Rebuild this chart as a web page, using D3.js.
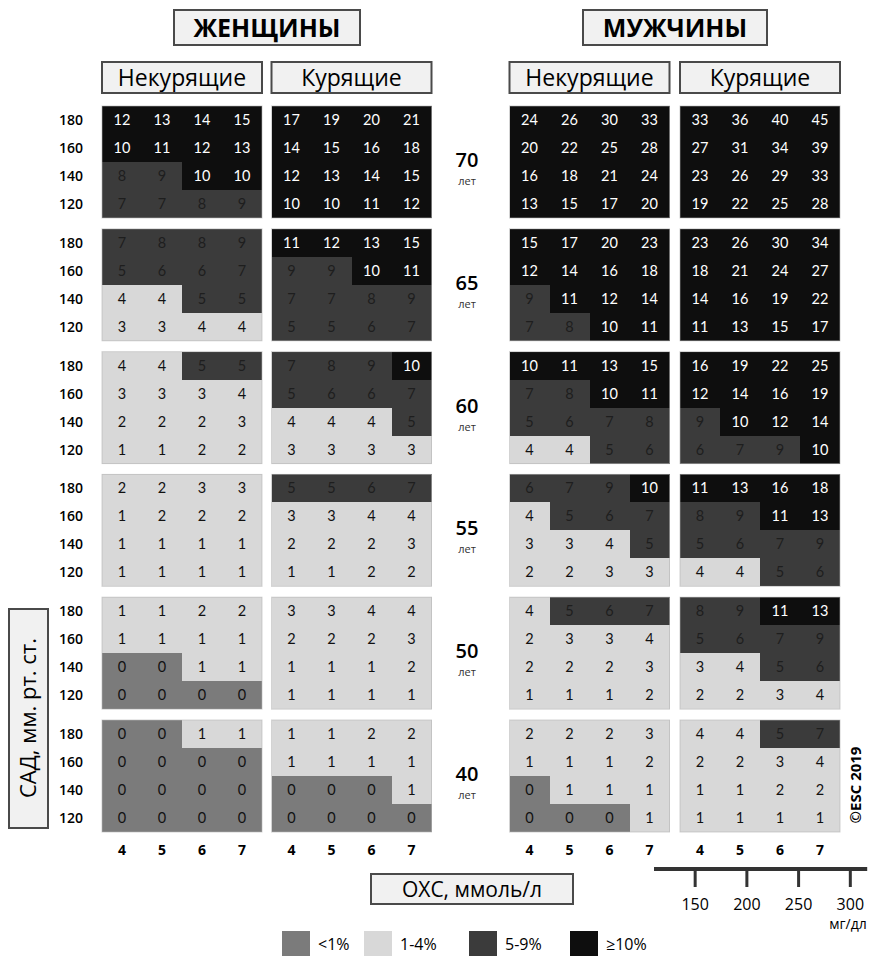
<!DOCTYPE html>
<html>

<head>
    <meta charset="UTF-8">
    <style>
        body { margin: 0; background: #fff; }
        text { font-family: "Open Sans", "DejaVu Sans", sans-serif; }
    </style>
</head>

<body>
    <div id="chart"></div>

    <script src="https://d3js.org/d3.v7.min.js"></script>
    <script>
        // axes values
        const cholesterol = [4, 5, 6, 7];        // ОХС, ммоль/л
        const sbp = [180, 160, 140, 120];        // САД, мм рт. ст.
        const ages = [70, 65, 60, 55, 50, 40];
        const mgdlTicks = [150, 200, 250, 300];

        // risk classes
        const riskThresholds = [1, 5, 10];
        const riskLabels = ["<1%", "1-4%", "5-9%", "≥10%"];
        const riskColors = ["#7b7b7b", "#d8d8d8", "#3b3b3b", "#0e0e0e"];

        const sexLabels = ["ЖЕНЩИНЫ", "МУЖЧИНЫ"];
        const smokeLabels = ["Некурящие", "Курящие"];

        // 10-year risk, one block per age, rows = SBP 180..120, cols = chol 4..7
        const womenNonSmoker = [
            [[12, 13, 14, 15], [10, 11, 12, 13], [8, 9, 10, 10], [7, 7, 8, 9]],
            [[7, 8, 8, 9], [5, 6, 6, 7], [4, 4, 5, 5], [3, 3, 4, 4]],
            [[4, 4, 5, 5], [3, 3, 3, 4], [2, 2, 2, 3], [1, 1, 2, 2]],
            [[2, 2, 3, 3], [1, 2, 2, 2], [1, 1, 1, 1], [1, 1, 1, 1]],
            [[1, 1, 2, 2], [1, 1, 1, 1], [0, 0, 1, 1], [0, 0, 0, 0]],
            [[0, 0, 1, 1], [0, 0, 0, 0], [0, 0, 0, 0], [0, 0, 0, 0]]
        ];
        const womenSmoker = [
            [[17, 19, 20, 21], [14, 15, 16, 18], [12, 13, 14, 15], [10, 10, 11, 12]],
            [[11, 12, 13, 15], [9, 9, 10, 11], [7, 7, 8, 9], [5, 5, 6, 7]],
            [[7, 8, 9, 10], [5, 6, 6, 7], [4, 4, 4, 5], [3, 3, 3, 3]],
            [[5, 5, 6, 7], [3, 3, 4, 4], [2, 2, 2, 3], [1, 1, 2, 2]],
            [[3, 3, 4, 4], [2, 2, 2, 3], [1, 1, 1, 2], [1, 1, 1, 1]],
            [[1, 1, 2, 2], [1, 1, 1, 1], [0, 0, 0, 1], [0, 0, 0, 0]]
        ];
        const menNonSmoker = [
            [[24, 26, 30, 33], [20, 22, 25, 28], [16, 18, 21, 24], [13, 15, 17, 20]],
            [[15, 17, 20, 23], [12, 14, 16, 18], [9, 11, 12, 14], [7, 8, 10, 11]],
            [[10, 11, 13, 15], [7, 8, 10, 11], [5, 6, 7, 8], [4, 4, 5, 6]],
            [[6, 7, 9, 10], [4, 5, 6, 7], [3, 3, 4, 5], [2, 2, 3, 3]],
            [[4, 5, 6, 7], [2, 3, 3, 4], [2, 2, 2, 3], [1, 1, 1, 2]],
            [[2, 2, 2, 3], [1, 1, 1, 2], [0, 1, 1, 1], [0, 0, 0, 1]]
        ];
        const menSmoker = [
            [[33, 36, 40, 45], [27, 31, 34, 39], [23, 26, 29, 33], [19, 22, 25, 28]],
            [[23, 26, 30, 34], [18, 21, 24, 27], [14, 16, 19, 22], [11, 13, 15, 17]],
            [[16, 19, 22, 25], [12, 14, 16, 19], [9, 10, 12, 14], [6, 7, 9, 10]],
            [[11, 13, 16, 18], [8, 9, 11, 13], [5, 6, 7, 9], [4, 4, 5, 6]],
            [[8, 9, 11, 13], [5, 6, 7, 9], [3, 4, 5, 6], [2, 2, 3, 4]],
            [[4, 4, 5, 7], [2, 2, 3, 4], [1, 1, 2, 2], [1, 1, 1, 1]]
        ];

        const panels = [womenNonSmoker, womenSmoker, menNonSmoker, menSmoker];

        const svg = d3.select("#chart")
            .append("svg")
            .attr("width", 872)
            .attr("height", 956);

        // scales
        const panelX = d3.scaleOrdinal().domain([0, 1, 2, 3]).range([102, 271.5, 509.5, 680]);
        const ageY = d3.scaleBand().domain(ages).range([106, 832]).paddingInner(0.088);
        const colX = d3.scaleBand().domain(cholesterol).range([0, 160]);
        const rowY = d3.scaleBand().domain(sbp).range([0, ageY.bandwidth()]);
        const color = d3.scaleThreshold().domain(riskThresholds).range(riskColors);
        const textColor = d3.scaleThreshold().domain(riskThresholds).range(["#111", "#111", "#1e1e1e", "#fff"]);

        // cells
        panels.forEach(function (panel, p) {
            const pg = svg.append("g").attr("transform", "translate(" + panelX(p) + ",0)");
            panel.forEach(function (block, a) {
                const g = pg.append("g").attr("transform", "translate(0," + ageY(ages[a]) + ")");
                const cells = [];
                block.forEach(function (row, r) {
                    row.forEach(function (v, c) {
                        cells.push({ sbp: sbp[r], chol: cholesterol[c], v: v });
                    });
                });
                g.selectAll("rect.cell")
                    .data(cells)
                    .enter().append("rect")
                    .attr("class", "cell")
                    .attr("x", d => colX(d.chol))
                    .attr("y", d => rowY(d.sbp))
                    .attr("width", colX.bandwidth())
                    .attr("height", rowY.bandwidth())
                    .attr("fill", d => color(d.v))
                    .attr("shape-rendering", "crispEdges");
                g.append("rect")
                    .attr("width", 160)
                    .attr("height", ageY.bandwidth())
                    .attr("fill", "none")
                    .attr("stroke", "#b5b5b5")
                    .attr("stroke-opacity", 0.6);
                g.selectAll("text.val")
                    .data(cells)
                    .enter().append("text")
                    .attr("class", "val")
                    .attr("x", d => colX(d.chol) + colX.bandwidth() / 2)
                    .attr("y", d => rowY(d.sbp) + rowY.bandwidth() / 2 + 5)
                    .attr("text-anchor", "middle")
                    .style("font-family", "Lato, 'Open Sans', sans-serif")
                    .style("font-size", "14.5px")
                    .attr("fill", d => textColor(d.v))
                    .text(d => d.v);
            });

            // cholesterol ticks under each panel
            pg.selectAll("text.tick")
                .data(cholesterol)
                .enter().append("text")
                .attr("x", d => colX(d) + colX.bandwidth() / 2)
                .attr("y", 855)
                .attr("text-anchor", "middle")
                .style("font-size", "14px")
                .style("font-weight", "700")
                .text(d => d);
        });

        // SBP labels on the left
        ages.forEach(function (age) {
            svg.append("g")
                .attr("transform", "translate(83," + ageY(age) + ")")
                .selectAll("text")
                .data(sbp)
                .enter().append("text")
                .attr("y", d => rowY(d) + rowY.bandwidth() / 2 + 5)
                .attr("text-anchor", "end")
                .style("font-size", "14px")
                .style("font-weight", "600")
                .text(d => d);
        });

        // age labels in the middle
        const ageLbl = svg.selectAll("g.age")
            .data(ages)
            .enter().append("g")
            .attr("transform", d => "translate(467," + (ageY(d) + ageY.bandwidth() / 2) + ")");
        ageLbl.append("text")
            .attr("y", 5)
            .attr("text-anchor", "middle")
            .style("font-size", "20px")
            .style("font-weight", "600")
            .text(d => d);
        ageLbl.append("text")
            .attr("y", 23)
            .attr("text-anchor", "middle")
            .style("font-size", "11px")
            .attr("fill", "#333")
            .text("лет");

        // header boxes
        function box(x, y, w, h, label, size, weight) {
            svg.append("rect")
                .attr("x", x).attr("y", y).attr("width", w).attr("height", h)
                .attr("fill", "#f1f1f1")
                .attr("stroke", "#4a4a4a")
                .attr("stroke-width", 2);
            svg.append("text")
                .attr("x", x + w / 2)
                .attr("y", y + h / 2 + size * 0.36)
                .attr("text-anchor", "middle")
                .style("font-size", size + "px")
                .style("font-weight", weight)
                .text(label);
        }
        box(174, 10, 186, 35, sexLabels[0], 25, 700);
        box(583, 10, 184, 35, sexLabels[1], 25, 700);
        [0, 1, 2, 3].forEach(function (p) {
            box(panelX(p), 62, 160, 31, smokeLabels[p % 2], 23, 400);
        });

        // y axis title
        svg.append("rect")
            .attr("x", 9).attr("y", 609).attr("width", 39).attr("height", 219)
            .attr("fill", "#f1f1f1").attr("stroke", "#4a4a4a").attr("stroke-width", 2);
        svg.append("text")
            .attr("transform", "translate(36,718) rotate(-90)")
            .attr("text-anchor", "middle")
            .style("font-size", "22px")
            .text("САД, мм. рт. ст.");

        // x axis title
        box(371, 874, 202, 30, "ОХС, ммоль/л", 21, 400);

        // mg/dl scale
        const mmolX = d3.scaleLinear().domain([4, 7])
            .range([panelX(3) + colX(4) + colX.bandwidth() / 2, panelX(3) + colX(7) + colX.bandwidth() / 2]);
        const mgToMmol = mg => mg / 38.67;
        svg.append("line")
            .attr("x1", mmolX(2.85)).attr("x2", mmolX(8.18))
            .attr("y1", 869).attr("y2", 869)
            .attr("stroke", "#333").attr("stroke-width", 4);
        svg.selectAll("line.mg")
            .data(mgdlTicks)
            .enter().append("line")
            .attr("x1", d => mmolX(mgToMmol(d))).attr("x2", d => mmolX(mgToMmol(d)))
            .attr("y1", 869).attr("y2", 887)
            .attr("stroke", "#333").attr("stroke-width", 3);
        svg.selectAll("text.mg")
            .data(mgdlTicks)
            .enter().append("text")
            .attr("x", d => mmolX(mgToMmol(d)))
            .attr("y", 910)
            .attr("text-anchor", "middle")
            .style("font-size", "16px")
            .text(d => d);
        svg.append("text")
            .attr("x", 848).attr("y", 929)
            .attr("text-anchor", "middle")
            .style("font-size", "14px")
            .text("мг/дл");

        // copyright
        svg.append("text")
            .attr("transform", "translate(861,785) rotate(-90)")
            .attr("text-anchor", "middle")
            .style("font-size", "15px")
            .style("font-weight", "700")
            .text("©ESC 2019");

        // legend
        const legendX = d3.scaleOrdinal().domain(riskLabels).range([282, 364, 469, 570]);
        const legend = svg.selectAll("g.legend")
            .data(riskLabels)
            .enter().append("g")
            .attr("transform", d => "translate(" + legendX(d) + ",931)");
        legend.append("rect")
            .attr("width", 28)
            .attr("height", 25)
            .attr("fill", (d, i) => riskColors[i]);
        legend.append("text")
            .attr("x", 36)
            .attr("y", 19)
            .style("font-size", "16px")
            .text(d => d);
    </script>
</body>

</html>
